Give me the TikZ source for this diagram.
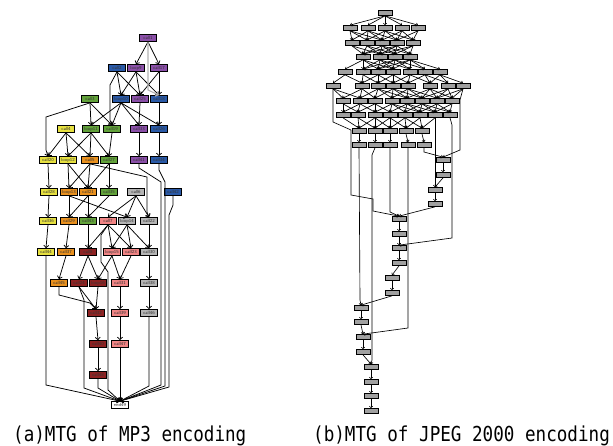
\documentclass[tikz,border=0pt]{standalone}
\usepackage{fontspec}
\usepackage{graphicx}
\newfontfamily\capfont{DejaVu Sans Mono}
\usetikzlibrary{arrows.meta}
\definecolor{cpur}{HTML}{8A4FA8}
\definecolor{cblu}{HTML}{2A5AA8}
\definecolor{cgrn}{HTML}{62A23A}
\definecolor{cyel}{HTML}{E6E040}
\definecolor{corg}{HTML}{E8901E}
\definecolor{cgry}{HTML}{B4B4B4}
\definecolor{cpnk}{HTML}{F08484}
\definecolor{cred}{HTML}{8E2222}
\definecolor{rgray}{HTML}{A0A0A0}
\newcommand\rrow[2]{\foreach \xx in {#2}{\node[rnode] (r#1-\xx) at (\xx,#1) {};}}
\newcommand\rdense[5]{\foreach \xa in {#2}{\foreach \xb in {#4}{\pgfmathtruncatemacro\dd{abs(\xa-\xb)}\ifnum\dd<#5\relax\draw[redge] (r#1-\xa.south) -- (r#3-\xb.north);\fi}}}
\begin{document}
\begin{tikzpicture}[x=1pt,y=-1pt,
  lnode/.style={draw=black, line width=0.7pt, minimum width=17pt, minimum height=7pt, inner sep=0pt,
    font=\fontsize{4.6}{5}\selectfont\sffamily, text=black!80},
  rnode/.style={draw=black, fill=rgray, line width=0.7pt, minimum width=14pt, minimum height=5pt, inner sep=0pt},
  ledge/.style={draw=black, line width=0.75pt, -{Straight Barb[length=2.4pt,width=5pt]}},
  redge/.style={draw=black, line width=0.65pt, -{Straight Barb[length=1.5pt,width=3.2pt]}},
  capt/.style={anchor=base west, inner sep=0pt}]
\useasboundingbox (0,0) rectangle (613,445);

% ---------- (a) MP3 graph ----------
\foreach \n/\t/\x/\y/\c in {
c1/call1/148/38/cpur,
c2/call2/117/68/cblu, c9/loop9/136/68/cpur, c17/call17/159/68/cpur,
c3/call3/90/99/cgrn, c10/loop10/121/99/cblu, c25/call25/140/99/cpur, c18/call18/159/99/cblu,
c4/call4/66/129/cyel, c11/loop11/91/129/cgrn, c19/call19/112/129/cgrn, c33/call33/139/129/cpur, c26/call26/159/129/cblu,
c20/call20/48/160/cyel, c12/loop12/68/160/cyel, c5/call5/90/160/corg, c27/call27/109/160/cgrn, c41/call41/139/160/cpur, c34/call34/159/160/cblu,
c28/call28/49/192/cyel, c13/loop13/69/192/corg, c21/call21/88/192/corg, c35/call35/109/192/cgrn, c6/call6/136/192/cgry, c42/call42/173/192/cblu,
c36/call36/48/221/cyel, c29/call29/69/221/corg, c43/call43/88/221/cgrn, c7/call7/108/221/cpnk, c14/loop14/127/221/cgry, c22/call22/149/221/cgry,
c44/call44/46/252/cyel, c37/call37/66/252/corg, c8/call8/88/252/cred, c15/loop15/112/252/cpnk, c23/call23/131/252/cpnk, c30/call30/149/252/cgry,
c45/call45/59/283/corg, c24/call24/79/283/cred, c16/loop16/98/283/cred, c31/call31/120/283/cpnk, c38/call38/149/283/cgry,
c32/call32/96/313/cred, c39/call39/120/313/cpnk, c46/call46/149/313/cgry,
c40/call40/98/344/cred, c47/call47/120/344/cpnk,
c48/call48/98/375/cred}
  {\node[lnode, fill=\c] (\n) at (\x,\y) {\t};}
\node[lnode, fill=white] (e49) at (120,405) {end49};

\foreach \a/\b in {c1/c9, c1/c17,
  c2/c10, c2/c25, c9/c10, c9/c25, c9/c18, c17/c25, c17/c18,
  c3/c11, c3/c19, c10/c11, c10/c19, c10/c33, c10/c26, c25/c33, c18/c26,
  c4/c20, c4/c12, c4/c5, c11/c12, c11/c5, c11/c27, c19/c27, c33/c41, c26/c34,
  c20/c28, c12/c13, c12/c21, c5/c13, c5/c21, c27/c35, c27/c21,
  c28/c36, c13/c29, c13/c14, c21/c29, c21/c43, c35/c43, c6/c14, c6/c22, c6/c7,
  c36/c44, c29/c37, c43/c8, c7/c15, c7/c23, c7/c8, c14/c15, c14/c23, c14/c30, c22/c30,
  c37/c45, c8/c24, c8/c16, c15/c16, c15/c31, c23/c31, c30/c38,
  c24/c32, c16/c32, c31/c39, c38/c46,
  c32/c40, c39/c47, c40/c48, c47/e49}
  {\draw[ledge] (\a.south) -- (\b.north);}

\draw[ledge, draw=gray!60, line width=1.1pt] (c1.south) -- (148,90) -- (c18.north);
\draw[ledge] (c2.south) -- (110,85) -- (110,120) -- (c19.north);
\draw[ledge] (c3.south) -- (46,117) -- (46,150) -- (c20.north);
\draw[ledge] (c5.south) -- (147,177) -- (147,212) -- (c22.north);
\draw[ledge] (c41.south) -- (139,168) -- (161,182) -- (161,385) -- (e49.north);
\draw[ledge] (c34.south) -- (159,170) -- (165,182) -- (165,386) -- (e49.north);
\draw[ledge] (c42.south) -- (173,205) -- (169,215) -- (169,387) -- (e49.north);
\draw[ledge] (c44.south) -- (46,385) -- (e49.north);
\draw[ledge] (c24.south) -- (84,300) -- (84,388) -- (e49.north);
\draw[ledge] (c7.south) -- (101,235) -- (101,262) -- (108,272) -- (108,390) -- (e49.north);
\draw[ledge] (c45.south) -- (59,295) -- (90,303) -- (c32.north);
\draw[ledge] (c46.south) -- (149,386) -- (e49.north);
\draw[ledge] (c48.south) -- (98,388) -- (e49.north);

% ---------- (b) JPEG 2000 graph ----------
\rrow{13}{385}
\rrow{28}{350,368,385,402,418}
\rrow{43}{352,367,382,397,413}
\rrow{57}{363,380,395,410}
\rrow{72}{345,363,378,393,410,425,440}
\rrow{86}{333,362,378,393,408,430,448,463}
\rrow{101}{343,360,375,392,407,422,437,452}
\rrow{115}{343,358,375,390,405,420,435,450}
\rrow{131}{359,375,390,406,422}
\rrow{145}{359,375,390,408,424}
\rrow{160}{443}\rrow{175}{443}
\rrow{190}{435}\rrow{204}{435}
\rrow{219}{399}\rrow{234}{399}\rrow{248}{399}\rrow{263}{399}
\rrow{278}{392}\rrow{293}{392}
\rrow{308}{361}\rrow{322}{361}
\rrow{337}{363}\rrow{352}{363}
\rrow{367}{371}\rrow{382}{371}\rrow{396}{371}\rrow{411}{371}

\rdense{13}{385}{28}{350,368,385,402,418}{40}
\rdense{28}{350,368,385,402,418}{43}{352,367,382,397,413}{33}
\rdense{43}{352,367,382,397,413}{57}{363,380,395,410}{35}
\rdense{57}{363,380,395,410}{72}{345,363,378,393,410,425,440}{35}
\rdense{72}{345,363,378,393,410,425,440}{86}{333,362,378,393,408,430,448,463}{30}
\rdense{86}{333,362,378,393,408,430,448,463}{101}{343,360,375,392,407,422,437,452}{30}
\rdense{101}{343,360,375,392,407,422,437,452}{115}{343,358,375,390,405,420,435,450}{30}
\rdense{115}{343,358,375,390,405,420,435,450}{131}{359,375,390,406,422}{20}
\rdense{131}{359,375,390,406,422}{145}{359,375,390,408,424}{4}

\draw[redge] (r86-333.south) -- (333,122) -- (351,130) -- (351,195) -- (373,199) -- (373,211) -- (r219-399.north);
\draw[redge] (r145-359.south) -- (360,300) -- (r308-361.north);
\draw[redge] (r145-375.south) -- (372,155) -- (372,360) -- (r367-371.north);
\draw[redge] (r145-390.south) -- (390,212) -- (r219-399.north);
\draw[redge] (r145-408.south) -- (408,328) -- (r337-363.north);
\draw[redge] (r145-424.south) -- (424,152) -- (r160-443.north);
\draw[redge] (r115-450.south) -- (452,125) -- (452,238) -- (r248-399.north);
\draw[redge] (r86-463.south) -- (460,100) -- (460,150) -- (r160-443.north);
\draw[redge] (r115-435.south) -- (r190-435.north);
\foreach \a/\b in {160-443/175-443, 175-443/190-435, 190-435/204-435, 204-435/219-399,
  219-399/234-399, 234-399/248-399, 248-399/263-399, 263-399/278-392, 278-392/293-392,
  293-392/308-361, 308-361/322-361, 322-361/337-363, 337-363/352-363, 352-363/367-371,
  367-371/382-371, 382-371/396-371, 396-371/411-371}
  {\draw[redge] (r\a.south) -- (r\b.north);}

% ---------- captions ----------
\node[capt] (capa) at (13,441) {\capfont\fontsize{17.6}{20}\selectfont\scalebox{1}[1.17]{(a)MTG of MP3 encoding}};
\node[capt] (capb) at (313,441) {\capfont\fontsize{17.6}{20}\selectfont\scalebox{1}[1.17]{(b)MTG of JPEG 2000 encoding}};
\end{tikzpicture}
\end{document}
